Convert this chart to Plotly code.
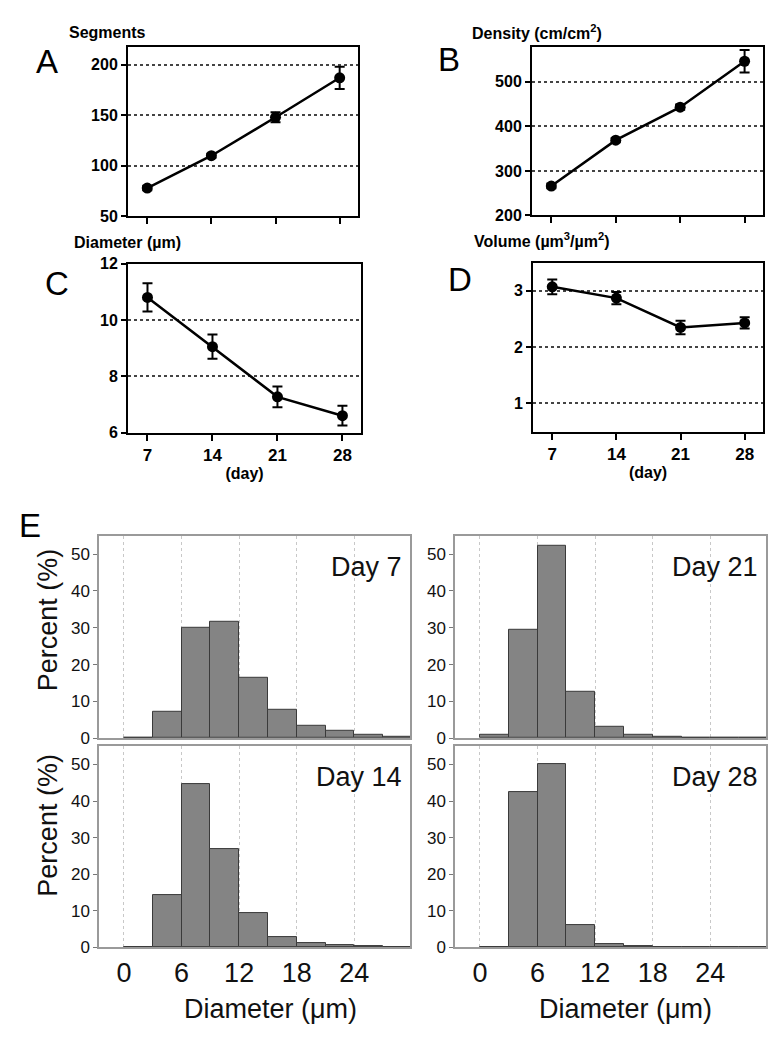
import plotly.graph_objects as go

# --- line panels A-D ---
days = [7, 14, 21, 28]
segments = [78, 110, 148, 187]
segments_err = [2, 2, 5, 11]
density = [266, 369, 443, 546]
density_err = [5, 5, 6, 25]
diameter = [10.8, 9.05, 7.27, 6.6]
diameter_err = [0.5, 0.43, 0.37, 0.35]
volume = [3.07, 2.87, 2.35, 2.43]
volume_err = [0.13, 0.11, 0.12, 0.10]

# --- histograms E (bins of 3 um) ---
bin_centers = [1.5, 4.5, 7.5, 10.5, 13.5, 16.5, 19.5, 22.5, 25.5, 28.5]
pct_day7 = [0.2, 7.3, 30.0, 31.7, 16.4, 7.8, 3.5, 1.9, 1.0, 0.4]
pct_day14 = [0.2, 14.4, 44.7, 27.0, 9.5, 2.9, 1.2, 0.6, 0.35, 0.2]
pct_day21 = [0.8, 29.5, 52.3, 12.5, 3.0, 0.9, 0.4, 0.0, 0.0, 0.0]
pct_day28 = [0.1, 42.5, 50.0, 6.0, 0.9, 0.4, 0.15, 0.05, 0.1, 0.1]
hist_ticks = [0, 6, 12, 18, 24]

# the page body has an 8px margin, so the figure is offset by 8px on screen
OFF = 8
FW, FH = 761, 1034
FONT = "Liberation Sans, Arial, sans-serif"


def fx(s):
    return (s - OFF) / FW


def fy(s):
    return 1 - (s - OFF) / FH


def px_x(a, b):
    return [fx(a), fx(b)]


def px_y(top, bottom):
    return [fy(bottom), fy(top)]


fig = go.Figure()

line_panels = [
    # values, errors, y range, y ticks, x domain px, y domain px, show x labels
    (segments, segments_err, [50, 217], [50, 100, 150, 200], (128, 358), (40, 212), False),
    (density, density_err, [200, 577], [200, 300, 400, 500], (532, 763), (40, 211), False),
    (diameter, diameter_err, [6, 12], [6, 8, 10, 12], (128, 361), (260, 432), True),
    (volume, volume_err, [0.5, 3.5], [1, 2, 3], (533, 763), (259, 431), True),
]

for i, (vals, err, yr, yt, xd, yd, labels) in enumerate(line_panels, start=1):
    sfx = "" if i == 1 else str(i)
    fig.add_trace(go.Scatter(
        x=days, y=vals, mode="lines+markers",
        line=dict(color="black", width=2.5),
        marker=dict(color="black", size=11),
        error_y=dict(type="data", array=err, color="black", thickness=2, width=5),
        xaxis="x" + sfx, yaxis="y" + sfx, showlegend=False,
    ))
    xax = dict(
        domain=px_x(*xd), anchor="y" + sfx, range=[4.9, 30],
        tickvals=days, showticklabels=labels, ticks="outside",
        ticklen=6, tickwidth=2, tickcolor="black",
        showline=True, linecolor="black", linewidth=2, mirror=True,
        showgrid=False, zeroline=False,
        tickfont=dict(family=FONT, size=17, color="black", weight="bold"),
    )
    if labels:
        xax["title"] = dict(text="(day)", standoff=4,
                            font=dict(family=FONT, size=16, color="black", weight="bold"))
    fig.layout["xaxis" + sfx] = xax
    fig.layout["yaxis" + sfx] = dict(
        domain=px_y(*yd), anchor="x" + sfx, range=yr, tickvals=yt,
        ticks="outside", ticklen=5, tickwidth=2, tickcolor="black",
        showline=True, linecolor="black", linewidth=2, mirror=True,
        showgrid=True, gridcolor="#444", gridwidth=2, griddash="dot",
        zeroline=False,
        tickfont=dict(family=FONT, size=16, color="black", weight="bold"),
    )

hist_panels = [
    (pct_day7, "Day 7", (99, 410), (537, 743), False),
    (pct_day21, "Day 21", (455, 766), (537, 743), False),
    (pct_day14, "Day 14", (99, 410), (751, 956), True),
    (pct_day28, "Day 28", (455, 766), (751, 956), True),
]

for j, (vals, name, xd, yd, bottom) in enumerate(hist_panels, start=5):
    sfx = str(j)
    fig.add_trace(go.Bar(
        x=bin_centers, y=vals, width=3,
        marker=dict(color="#848484", line=dict(color="#3a3a3a", width=1)),
        xaxis="x" + sfx, yaxis="y" + sfx, showlegend=False,
    ))
    fig.layout["xaxis" + sfx] = dict(
        domain=px_x(*xd), anchor="y" + sfx, range=[-2.6, 29.8],
        tickvals=hist_ticks, showticklabels=bottom, ticks="",
        showline=True, linecolor="#9a9a9a", linewidth=1.5, mirror=True,
        showgrid=True, gridcolor="#c8c8c8", gridwidth=1, griddash="dot",
        zeroline=False,
        tickfont=dict(family=FONT, size=27, color="#111"),
    )
    fig.layout["yaxis" + sfx] = dict(
        domain=px_y(*yd), anchor="x" + sfx, range=[0, 55],
        tickvals=[0, 10, 20, 30, 40, 50], ticks="outside", ticklen=4,
        tickcolor="#777", showline=True, linecolor="#9a9a9a", linewidth=1.5,
        mirror=True, showgrid=False, zeroline=False,
        tickfont=dict(family=FONT, size=17, color="#111"),
    )
    fig.add_annotation(
        text=name, xref="x" + sfx + " domain", yref="y" + sfx + " domain",
        x=0.98, y=0.93, xanchor="right", yanchor="top", showarrow=False,
        font=dict(family=FONT, size=27, color="#111"),
    )

for txt, x, y in [("A", 47, 54), ("B", 449, 52), ("C", 57, 280), ("D", 460, 276), ("E", 30, 527)]:
    fig.add_annotation(text=txt, xref="paper", yref="paper", x=fx(x), y=fy(y),
                       xanchor="center", yanchor="middle", showarrow=False,
                       font=dict(family=FONT, size=33, color="black"))

axis_titles = [
    ("Segments", 67, 25), ("Density (cm/cm<sup>2</sup>)", 470, 24),
    ("Diameter (µm)", 72, 239), ("Volume (µm<sup>3</sup>/µm<sup>2</sup>)", 472, 236),
]
for txt, x, y in axis_titles:
    fig.add_annotation(text=txt, xref="paper", yref="paper", x=fx(x), y=fy(y),
                       xanchor="left", yanchor="middle", showarrow=False,
                       font=dict(family=FONT, size=16, color="black", weight="bold"))

for y in (623, 832):
    fig.add_annotation(text="Percent (%)", xref="paper", yref="paper", x=fx(48),
                       y=fy(y), textangle=-90, xanchor="center", yanchor="middle",
                       showarrow=False, font=dict(family=FONT, size=27, color="#111"))

for x in (270, 625):
    fig.add_annotation(text="Diameter (μm)", xref="paper", yref="paper", x=fx(x),
                       y=fy(1019), xanchor="center", yanchor="middle",
                       showarrow=False, font=dict(family=FONT, size=27, color="#111"))

fig.update_layout(
    width=FW, height=FH, margin=dict(l=0, r=0, t=0, b=0),
    paper_bgcolor="white", plot_bgcolor="white", bargap=0,
)
fig.write_html("out.html")
